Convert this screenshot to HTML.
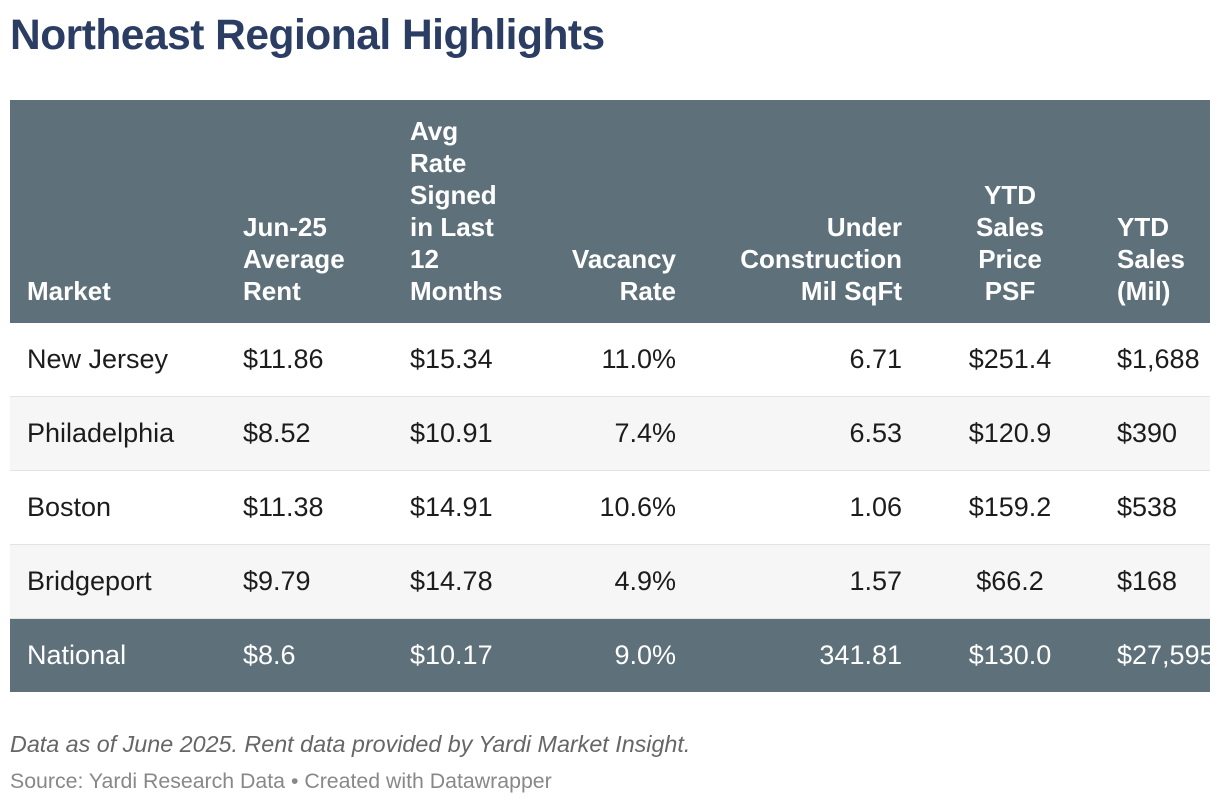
<!DOCTYPE html>
<html><head><meta charset="utf-8">
<style>
body{margin:0;width:1220px;height:806px;background:#fff;font-family:"Liberation Sans",sans-serif;position:relative;overflow:hidden}
.title{position:absolute;left:10px;top:12px;font-size:42.5px;font-weight:bold;color:#2b3d63;letter-spacing:-0.5px}
.tbl{position:absolute;left:10px;top:100px;width:1200px;overflow:hidden}
.hdr{height:223px;background:#5e7079;position:relative}
.row{height:73px;position:relative;border-bottom:1px solid #e3e3e3}
.row.g{background:#f6f6f6}
.row.nat{background:#5e7079;color:#fff;border-bottom:none}
.c{position:absolute;font-size:27px;color:#1c1c1c;white-space:nowrap;top:21px}
.nat .c{color:#fff}
.h{position:absolute;bottom:16px;font-size:26px;font-weight:bold;color:#fff;line-height:32px}
.note{position:absolute;left:10px;top:731px;font-size:23.3px;font-style:italic;color:#666}
.src{position:absolute;left:10px;top:769px;font-size:21.3px;color:#888}
</style></head><body>
<div class="title">Northeast Regional Highlights</div>
<div class="tbl">
 <div class="hdr">
  <div class="h" style="left:17px">Market</div>
  <div class="h" style="left:233px">Jun-25<br>Average<br>Rent</div>
  <div class="h" style="left:400px">Avg<br>Rate<br>Signed<br>in Last<br>12<br>Months</div>
  <div class="h" style="right:534px;text-align:right">Vacancy<br>Rate</div>
  <div class="h" style="right:308px;text-align:right">Under<br>Construction<br>Mil SqFt</div>
  <div class="h" style="left:940px;width:120px;text-align:center">YTD<br>Sales<br>Price<br>PSF</div>
  <div class="h" style="left:1107px">YTD<br>Sales<br>(Mil)</div>
 </div>
 <div id="body"></div>
</div>
<div class="note">Data as of June 2025. Rent data provided by Yardi Market Insight.</div>
<div class="src">Source: Yardi Research Data • Created with Datawrapper</div>
<script>
const markets=["New Jersey","Philadelphia","Boston","Bridgeport","National"];
const rents=["$11.86","$8.52","$11.38","$9.79","$8.6"];
const rates=["$15.34","$10.91","$14.91","$14.78","$10.17"];
const vacancy=["11.0%","7.4%","10.6%","4.9%","9.0%"];
const underConstruction=["6.71","6.53","1.06","1.57","341.81"];
const salesPrice=["$251.4","$120.9","$159.2","$66.2","$130.0"];
const ytdSales=["$1,688","$390","$538","$168","$27,595"];
const body=document.getElementById('body');
markets.forEach((m,i)=>{
 const r=document.createElement('div');
 r.className='row'+(i===4?' nat':(i%2===1?' g':''));
 
 
 const cells=[
  [m,'left:17px','market'],[rents[i],'left:233px','avg-rent'],[rates[i],'left:400px','avg-rate'],
  [vacancy[i],'right:534px','vacancy'],[underConstruction[i],'right:308px','under-construction'],
  [salesPrice[i],'left:940px;width:120px;text-align:center','sales-price'],[ytdSales[i],'left:1107px','ytd-sales']];
 cells.forEach(c=>{
  const d=document.createElement('div');
  d.className='c';d.style.cssText=c[1];d.textContent=c[0];
  
  
  r.appendChild(d);
 });
 body.appendChild(r);
});
</script>
</body></html>
